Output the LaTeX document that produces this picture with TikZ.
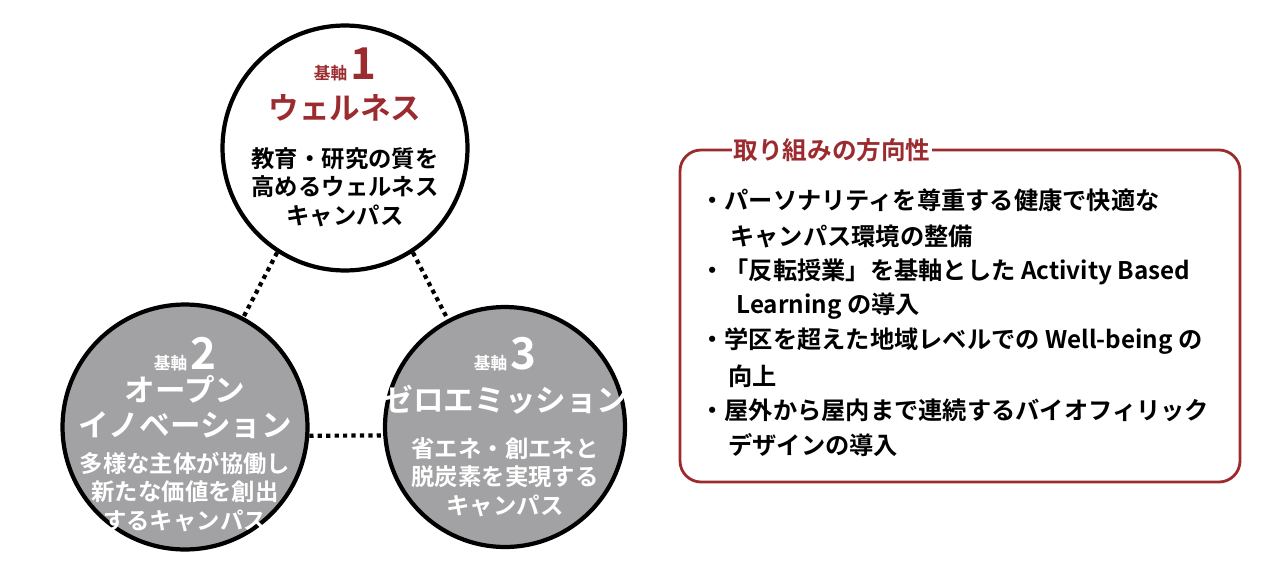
\documentclass[tikz,border=0pt]{standalone}
\usepackage{fontspec}
\setmainfont{Noto Sans CJK JP}[BoldFont={Noto Sans CJK JP Bold}]
\usetikzlibrary{positioning}
\definecolor{axisred}{HTML}{9B2B2F}
\definecolor{axisgray}{HTML}{A2A2A4}
\tikzset{
  axis/.style={circle, draw=black, line width=2.4pt, minimum size=4.9cm, inner sep=0pt},
  link/.style={line width=2.4pt, dash pattern=on 2.4pt off 2.4pt},
  txt/.style={align=center, font=\bfseries\fontsize{13.3}{16.3}\selectfont, inner sep=0pt},
  item/.style={anchor=west, inner sep=0pt, font=\bfseries\fontsize{13.8}{15}\selectfont}
}
\begin{document}
\begin{tikzpicture}[x=0.02cm, y=-0.02cm]
\useasboundingbox (0,0) rectangle (1280,568);
% three axes
\node[axis, fill=white]      (c1) at (345,148) {};
\node[axis, fill=axisgray]   (c2) at (185,427) {};
\node[axis, fill=axisgray, minimum size=4.8cm] (c3) at (505,427) {};
\draw[link] (c1.237) -- (c2.62);
\draw[link] (c1.303) -- (c3.118);
\draw[link] (c2.-4) -- (c3.184);
% axis 1
\node[txt, text=axisred] (h1) at (345,64) {\fontsize{9.5}{9.5}\selectfont 基軸\,\fontsize{25}{25}\selectfont 1};
\node[txt, text=axisred, font=\bfseries\fontsize{17.4}{19}\selectfont] (t1) at (345,108) {ウェルネス};
\node[txt] (d1) at (345,187) {教育・研究の質を\\高めるウェルネス\\キャンパス};
% axis 2
\node[txt, text=white] (h2) at (185,354) {\fontsize{9.5}{9.5}\selectfont 基軸\,\fontsize{25}{25}\selectfont 2};
\node[txt, text=white, font=\bfseries\fontsize{17.4}{19.5}\selectfont] (t2) at (185,407) {オープン\\イノベーション};
\node[txt, text=white] (d2) at (185,492) {多様な主体が協働し\\新たな価値を創出\\するキャンパス};
% axis 3
\node[txt, text=white] (h3) at (505,354) {\fontsize{9.5}{9.5}\selectfont 基軸\,\fontsize{25}{25}\selectfont 3};
\node[txt, text=white, font=\bfseries\fontsize{17.4}{19}\selectfont] (t3) at (505,400) {ゼロエミッション};
\node[txt] [text=white] (d3) at (505,477) {省エネ・創エネと\\脱炭素を実現する\\キャンパス};
% direction box
\draw[axisred, line width=1.6pt, rounded corners=12pt] (680,150) rectangle (1240,482);
\node[fill=white, text=axisred, inner sep=1pt, font=\bfseries\fontsize{14}{15}\selectfont] (ttl) at (832,150) {取り組みの方向性};
\node[item] (i1) at (700,200) {・パーソナリティを尊重する健康で快適な};
\node[item] (i1b) at (730,236) {キャンパス環境の整備};
\node[item] (i2) at (700,272) {・「反転授業」を基軸とした Activity Based};
\node[item] (i2b) at (736,306) {Learning の導入};
\node[item] (i3) at (700,341) {・学区を超えた地域レベルでの Well-being の};
\node[item] (i3b) at (728,376) {向上};
\node[item] (i4) at (700,410) {・屋外から屋内まで連続するバイオフィリック};
\node[item] (i4b) at (728,445) {デザインの導入};
\end{tikzpicture}
\end{document}
